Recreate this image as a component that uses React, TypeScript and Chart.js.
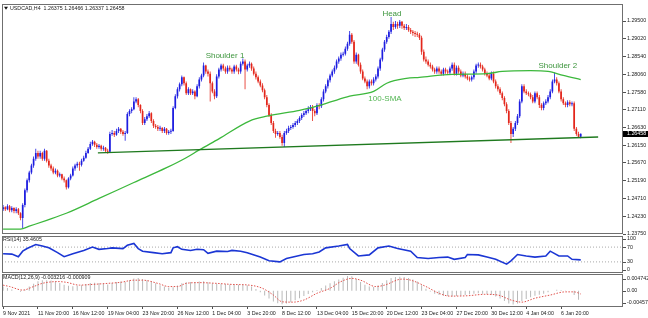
import React, { useEffect, useRef } from "react";
import { Chart, registerables } from "chart.js";

Chart.register(...registerables);

// ---------------- data ----------------
const HEADER = "USDCAD,H4  1.26375 1.26466 1.26337 1.26458";
const LAST_PRICE = 1.26458;
const FIRST_OPEN = 1.2442;

const CLOSE = [
  1.2447, 1.2442, 1.2450, 1.2439, 1.2445, 1.2437, 1.2442, 1.2431, 1.2418, 1.2453,
  1.2493, 1.2520, 1.2541, 1.2560, 1.2578, 1.2594, 1.2584, 1.2594, 1.2578, 1.2600,
  1.2573, 1.2560, 1.2552, 1.2541, 1.2546, 1.2533, 1.2536, 1.2525, 1.2520, 1.2501,
  1.2525, 1.2533, 1.2552, 1.2560, 1.2565, 1.2562, 1.2573, 1.2581, 1.2594, 1.2605,
  1.2618, 1.2624, 1.2616, 1.2610, 1.2613, 1.2605, 1.2608, 1.2600, 1.2597, 1.2645,
  1.2648, 1.2643, 1.2653, 1.2659, 1.2651, 1.2645, 1.2648, 1.2699, 1.2707, 1.2712,
  1.2733, 1.2739, 1.2723, 1.2707, 1.2675, 1.2685, 1.2693, 1.2701, 1.2680, 1.2667,
  1.2664, 1.2659, 1.2661, 1.2653, 1.2659, 1.2648, 1.2651, 1.2653, 1.2715, 1.2747,
  1.2766, 1.2779, 1.2798, 1.2782, 1.2755, 1.2766, 1.2755, 1.2760, 1.2747, 1.2774,
  1.2792, 1.2803, 1.2830, 1.2814, 1.2808, 1.2782, 1.2760, 1.2747, 1.2800, 1.2819,
  1.2830, 1.2822, 1.2814, 1.2824, 1.2819, 1.2814, 1.2827, 1.2819, 1.2814, 1.2835,
  1.2841, 1.2819, 1.2830, 1.2835, 1.2822, 1.2808, 1.2798, 1.2787, 1.2776, 1.2763,
  1.2744, 1.2723, 1.2696, 1.2675, 1.2653, 1.2645, 1.2648, 1.2637, 1.2621, 1.2648,
  1.2653, 1.2661, 1.2664, 1.2669, 1.2675, 1.2680, 1.2688, 1.2696, 1.2701, 1.2707,
  1.2712, 1.2717, 1.2707, 1.2701, 1.2723, 1.2720, 1.2739, 1.2760, 1.2774, 1.2790,
  1.2803, 1.2814, 1.2824, 1.2841, 1.2849, 1.2859, 1.2862, 1.2875, 1.2889, 1.2913,
  1.2894, 1.2841, 1.2859, 1.2832, 1.2814, 1.2795, 1.2787, 1.2774, 1.2787, 1.2782,
  1.2792, 1.2800, 1.2822, 1.2846, 1.2873, 1.2894, 1.2907, 1.2921, 1.2942, 1.2934,
  1.2942, 1.2937, 1.2948, 1.2937, 1.2931, 1.2934, 1.2926, 1.2921, 1.2918, 1.2915,
  1.2913, 1.2905, 1.2867, 1.2846, 1.2841, 1.2832, 1.2827, 1.2819, 1.2814, 1.2822,
  1.2814, 1.2808, 1.2819, 1.2814, 1.2811, 1.2822, 1.2832, 1.2808, 1.2824, 1.2814,
  1.2803, 1.2808, 1.2800, 1.2795, 1.2792, 1.2798, 1.2814, 1.2830, 1.2832, 1.2827,
  1.2819, 1.2808, 1.2803, 1.2795, 1.2808, 1.2787, 1.2774, 1.2766, 1.2755, 1.2742,
  1.2725, 1.2707, 1.2675, 1.2645, 1.2659, 1.2675, 1.2693, 1.2733, 1.2774, 1.2760,
  1.2755, 1.2752, 1.2744, 1.2733, 1.2755, 1.2744, 1.2723, 1.2715, 1.2728, 1.2733,
  1.2744, 1.2760, 1.2787, 1.2792, 1.2782, 1.2760, 1.2739, 1.2728, 1.2723, 1.2731,
  1.2725, 1.2728, 1.2659, 1.2645, 1.26375, 1.26458,
];

const HIGH = [
  1.2453, 1.2450, 1.2455, 1.2453, 1.2450, 1.2447, 1.2447, 1.2445, 1.2434, 1.2458,
  1.2498, 1.2525, 1.2546, 1.2565, 1.2584, 1.2605, 1.2600, 1.2600, 1.2597, 1.2605,
  1.2602, 1.2578, 1.2565, 1.2557, 1.2552, 1.2549, 1.2541, 1.2538, 1.2530, 1.2522,
  1.2528, 1.2538, 1.2557, 1.2565, 1.2570, 1.2570, 1.2578, 1.2586, 1.2600, 1.2610,
  1.2624, 1.2629, 1.2627, 1.2621, 1.2618, 1.2616, 1.2613, 1.2610, 1.2605, 1.2651,
  1.2656, 1.2653, 1.2659, 1.2664, 1.2661, 1.2656, 1.2653, 1.2704, 1.2712, 1.2717,
  1.2744, 1.2744, 1.2742, 1.2725, 1.2712, 1.2691, 1.2699, 1.2707, 1.2704, 1.2685,
  1.2672, 1.2669, 1.2667, 1.2664, 1.2664, 1.2661, 1.2656, 1.2659, 1.2720, 1.2752,
  1.2771, 1.2784, 1.2803, 1.2800, 1.2787, 1.2771, 1.2768, 1.2766, 1.2763, 1.2779,
  1.2798, 1.2808, 1.2838, 1.2832, 1.2819, 1.2814, 1.2787, 1.2766, 1.2806, 1.2824,
  1.2835, 1.2835, 1.2827, 1.2830, 1.2830, 1.2824, 1.2832, 1.2832, 1.2824, 1.2841,
  1.2849, 1.2846, 1.2835, 1.2841, 1.2838, 1.2827, 1.2814, 1.2803, 1.2792, 1.2782,
  1.2768, 1.2750, 1.2728, 1.2701, 1.2680, 1.2659, 1.2653, 1.2653, 1.2643, 1.2653,
  1.2659, 1.2667, 1.2669, 1.2675, 1.2680, 1.2685, 1.2693, 1.2701, 1.2707, 1.2712,
  1.2720, 1.2723, 1.2723, 1.2712, 1.2728, 1.2728, 1.2744, 1.2766, 1.2779, 1.2795,
  1.2808, 1.2819, 1.2830, 1.2846, 1.2854, 1.2865, 1.2867, 1.2881, 1.2894, 1.2923,
  1.2918, 1.2899, 1.2865, 1.2862, 1.2838, 1.2819, 1.2800, 1.2792, 1.2792, 1.2792,
  1.2798, 1.2806, 1.2827, 1.2851, 1.2878, 1.2899, 1.2913, 1.2926, 1.2961, 1.2948,
  1.2950, 1.2948, 1.2953, 1.2950, 1.2942, 1.2942, 1.2939, 1.2931, 1.2926, 1.2923,
  1.2921, 1.2918, 1.2910, 1.2873, 1.2854, 1.2846, 1.2838, 1.2832, 1.2824, 1.2827,
  1.2827, 1.2819, 1.2824, 1.2824, 1.2819, 1.2827, 1.2838, 1.2838, 1.2830, 1.2830,
  1.2819, 1.2814, 1.2814, 1.2806, 1.2800, 1.2803, 1.2819, 1.2835, 1.2838, 1.2838,
  1.2832, 1.2824, 1.2814, 1.2808, 1.2814, 1.2814, 1.2792, 1.2779, 1.2771, 1.2760,
  1.2747, 1.2731, 1.2712, 1.2680, 1.2664, 1.2680, 1.2699, 1.2739, 1.2779, 1.2779,
  1.2766, 1.2760, 1.2757, 1.2750, 1.2760, 1.2760, 1.2750, 1.2728, 1.2733, 1.2739,
  1.2750, 1.2766, 1.2792, 1.2811, 1.2798, 1.2787, 1.2766, 1.2744, 1.2733, 1.2736,
  1.2736, 1.2733, 1.2733, 1.2664, 1.2651, 1.26466,
];

const LOW = [
  1.2437, 1.2437, 1.2439, 1.2434, 1.2434, 1.2431, 1.2431, 1.2426, 1.2412, 1.2391,
  1.2447, 1.2487, 1.2514, 1.2536, 1.2554, 1.2573, 1.2578, 1.2578, 1.2573, 1.2573,
  1.2568, 1.2554, 1.2546, 1.2536, 1.2536, 1.2528, 1.2528, 1.2520, 1.2514, 1.2495,
  1.2498, 1.2520, 1.2530, 1.2546, 1.2554, 1.2546, 1.2557, 1.2570, 1.2578, 1.2592,
  1.2602, 1.2613, 1.2610, 1.2605, 1.2605, 1.2600, 1.2600, 1.2594, 1.2592, 1.2594,
  1.2640, 1.2637, 1.2640, 1.2648, 1.2645, 1.2640, 1.2627, 1.2645, 1.2693, 1.2701,
  1.2709, 1.2728, 1.2717, 1.2701, 1.2669, 1.2669, 1.2680, 1.2688, 1.2675, 1.2661,
  1.2659, 1.2653, 1.2653, 1.2648, 1.2648, 1.2643, 1.2643, 1.2645, 1.2651, 1.2712,
  1.2741, 1.2760, 1.2774, 1.2776, 1.2750, 1.2750, 1.2750, 1.2750, 1.2739, 1.2744,
  1.2768, 1.2787, 1.2798, 1.2808, 1.2800, 1.2733, 1.2755, 1.2739, 1.2742, 1.2795,
  1.2814, 1.2816, 1.2808, 1.2808, 1.2814, 1.2808, 1.2808, 1.2814, 1.2806, 1.2808,
  1.2830, 1.2766, 1.2814, 1.2824, 1.2816, 1.2803, 1.2792, 1.2782, 1.2771, 1.2758,
  1.2739, 1.2717, 1.2691, 1.2669, 1.2648, 1.2635, 1.2640, 1.2632, 1.2613, 1.2610,
  1.2643, 1.2648, 1.2656, 1.2659, 1.2664, 1.2669, 1.2675, 1.2683, 1.2691, 1.2696,
  1.2701, 1.2707, 1.2680, 1.2693, 1.2696, 1.2712, 1.2715, 1.2733, 1.2755, 1.2768,
  1.2784, 1.2798, 1.2808, 1.2819, 1.2835, 1.2843, 1.2854, 1.2857, 1.2870, 1.2883,
  1.2889, 1.2835, 1.2835, 1.2827, 1.2808, 1.2790, 1.2782, 1.2766, 1.2768, 1.2776,
  1.2776, 1.2787, 1.2795, 1.2816, 1.2841, 1.2867, 1.2889, 1.2902, 1.2915, 1.2926,
  1.2929, 1.2929, 1.2931, 1.2929, 1.2926, 1.2926, 1.2921, 1.2915, 1.2910, 1.2907,
  1.2907, 1.2899, 1.2859, 1.2841, 1.2835, 1.2827, 1.2822, 1.2814, 1.2808, 1.2808,
  1.2808, 1.2803, 1.2803, 1.2808, 1.2806, 1.2806, 1.2816, 1.2803, 1.2803, 1.2808,
  1.2798, 1.2798, 1.2795, 1.2790, 1.2787, 1.2787, 1.2792, 1.2808, 1.2824, 1.2822,
  1.2814, 1.2803, 1.2798, 1.2790, 1.2790, 1.2782, 1.2768, 1.2760, 1.2750, 1.2736,
  1.2720, 1.2701, 1.2669, 1.2621, 1.2637, 1.2653, 1.2669, 1.2688, 1.2728, 1.2755,
  1.2750, 1.2747, 1.2739, 1.2728, 1.2728, 1.2739, 1.2715, 1.2709, 1.2709, 1.2723,
  1.2728, 1.2739, 1.2755, 1.2782, 1.2776, 1.2755, 1.2733, 1.2723, 1.2717, 1.2717,
  1.2720, 1.2720, 1.2653, 1.2640, 1.2635, 1.26337,
];

const SMA_IDX = [0, 8, 12, 20, 29, 44, 60, 75, 84, 90, 99, 113, 121, 136, 144, 151, 159, 170, 176, 185, 191, 206, 222, 229, 242, 250, 257, 265];
const SMA_VAL = [1.2388, 1.2388, 1.2396, 1.2412, 1.2431, 1.2471, 1.2514, 1.2554, 1.2581, 1.2602, 1.2632, 1.2680, 1.2693, 1.2709, 1.2720, 1.2733, 1.2747, 1.2760, 1.2782, 1.2795, 1.2798, 1.2806, 1.2808, 1.2814, 1.2816, 1.2814, 1.2803, 1.2792];

const NECK_IDX = [43.5, 273];
const NECK_VAL = [1.2594, 1.2637];

const NOTE_TEXT = ["Shoulder 1", "Head", "Shoulder 2", "100-SMA"];
const NOTE_IDX = [101.8, 178.4, 254.5, 175.2];
const NOTE_PRICE = [1.2857, 1.2969, 1.2830, 1.2739];

const PRICE_MIN = 1.2375;
const PRICE_MAX = 1.29955;
const PRICE_TICKS = [1.2375, 1.2423, 1.2471, 1.2519, 1.2567, 1.2615, 1.2663, 1.2711, 1.2758, 1.2806, 1.2854, 1.2902, 1.295];

const RSI_LABEL = "RSI(14) 35.4605";
const RSI_IDX = [0, 4, 7, 9, 11, 15, 18, 21, 25, 28, 32, 37, 41, 44, 48, 50, 55, 57, 60, 62, 64, 69, 73, 77, 78, 80, 82, 86, 89, 92, 94, 98, 103, 105, 109, 112, 118, 122, 127, 130, 133, 138, 142, 145, 148, 154, 158, 159, 163, 168, 172, 177, 181, 187, 190, 195, 200, 204, 207, 212, 213, 218, 222, 226, 231, 233, 236, 240, 244, 249, 251, 255, 259, 261, 265];
const RSI_VAL = [52, 51, 44, 59, 66, 77, 73, 68, 55, 44, 52, 61, 70, 64, 66, 68, 66, 75, 80, 66, 59, 55, 52, 55, 68, 71, 64, 61, 64, 63, 53, 59, 58, 61, 59, 55, 43, 33, 30, 39, 43, 50, 52, 57, 68, 73, 77, 66, 46, 49, 68, 73, 66, 59, 42, 39, 42, 43, 37, 42, 50, 49, 43, 37, 24, 33, 50, 46, 43, 46, 59, 46, 46, 37, 35.5];
const RSI_LEVELS = [70, 30];
const RSI_TICKS = [100, 70, 30, 0];

const MACD_LABEL = "MACD(12,26,9) -0.003216 -0.000909";
const MACD_STEP = 2; // one histogram value for every second bar
const MACD_MAIN = [
  0.0012, 0.0008, 0.0004, 0.0000, -0.0003, 0.0003, 0.0012, 0.0020, 0.0027, 0.0030,
  0.0030, 0.0029, 0.0026, 0.0022, 0.0017, 0.0014, 0.0013, 0.0014, 0.0016, 0.0019,
  0.0022, 0.0023, 0.0022, 0.0020, 0.0018, 0.0022, 0.0025, 0.0026, 0.0025, 0.0030,
  0.0035, 0.0036, 0.0033, 0.0030, 0.0026, 0.0021, 0.0016, 0.0012, 0.0009, 0.0010,
  0.0015, 0.0021, 0.0024, 0.0025, 0.0025, 0.0026, 0.0027, 0.0024, 0.0021, 0.0020,
  0.0020, 0.0019, 0.0018, 0.0018, 0.0017, 0.0018, 0.0016, 0.0012, 0.0005, -0.0004,
  -0.0013, -0.0022, -0.0030, -0.0035, -0.0038, -0.0036, -0.0032, -0.0027, -0.0021, -0.0015,
  -0.0009, -0.0004, 0.0002, 0.0008, 0.0015, 0.0021, 0.0027, 0.0032, 0.0037, 0.0042,
  0.0041, 0.0033, 0.0025, 0.0017, 0.0012, 0.0011, 0.0015, 0.0022, 0.0030, 0.0036,
  0.0039, 0.0040, 0.0039, 0.0036, 0.0032, 0.0026, 0.0016, 0.0006, -0.0002, -0.0008,
  -0.0012, -0.0014, -0.0015, -0.0016, -0.0015, -0.0014, -0.0012, -0.0010, -0.0008, -0.0007,
  -0.0008, -0.0009, -0.0011, -0.0016, -0.0022, -0.0029, -0.0036, -0.0039, -0.0036, -0.0029,
  -0.0023, -0.0018, -0.0014, -0.0011, -0.0008, -0.0004, 0.0000, 0.0003, 0.0002, 0.0001,
  0.0000, -0.0012, -0.0025,
];
const SIGNAL_IDX = [0, 3, 9, 14, 18, 25, 29, 35, 41, 48, 54, 60, 64, 71, 76, 80, 84, 90, 98, 105, 113, 119, 124, 128, 133, 138, 144, 150, 155, 160, 164, 171, 175, 183, 187, 194, 200, 205, 213, 221, 227, 233, 238, 244, 251, 258, 262, 265];
const SIGNAL_VAL = [0.0016, 0.0012, 0.0002, 0.0012, 0.0021, 0.0026, 0.0024, 0.0016, 0.0018, 0.0021, 0.0024, 0.0030, 0.0030, 0.0021, 0.0012, 0.0012, 0.0021, 0.0023, 0.0021, 0.0018, 0.0016, 0.0007, -0.0012, -0.0031, -0.0032, -0.0026, -0.0007, 0.0007, 0.0026, 0.0035, 0.0030, 0.0012, 0.0016, 0.0033, 0.0030, 0.0012, -0.0007, -0.0015, -0.0014, -0.0010, -0.0012, -0.0026, -0.0032, -0.0021, -0.0012, -0.0003, -0.0003, -0.0009];
const MACD_MIN = -0.004573;
const MACD_MAX = 0.004742;
const MACD_TICKS = [0.004742, 0, -0.004573];
const MACD_TICK_TEXT = ["0.004742", "0.00", "-0.004573"];

const X_LABELS = ["9 Nov 2021", "11 Nov 20:00", "16 Nov 12:00", "19 Nov 04:00", "23 Nov 20:00", "26 Nov 12:00", "1 Dec 04:00", "3 Dec 20:00", "8 Dec 12:00", "13 Dec 04:00", "15 Dec 20:00", "20 Dec 12:00", "23 Dec 04:00", "27 Dec 20:00", "30 Dec 12:00", "4 Jan 04:00", "6 Jan 20:00"];
const X_LABEL_STEP = 16;
const X_MIN = -0.5;
const X_MAX = 284.4;

// ---------------- styles ----------------
const FONT = '"Liberation Sans", Arial, sans-serif';
const SMALL = 5.3;
const TXT = "#1a1a1a";
const FRAME = "#6f6f6f";
const UP = "#1d1de0";
const DOWN = "#e3261b";

Chart.defaults.font.family = FONT;
Chart.defaults.font.size = SMALL;
Chart.defaults.color = TXT;

function drawFrame(ctx: CanvasRenderingContext2D, a: any) {
  ctx.save();
  ctx.strokeStyle = FRAME;
  ctx.lineWidth = 1;
  const l = Math.round(a.left), t = Math.round(a.top), r = Math.round(a.right), b = Math.round(a.bottom);
  ctx.strokeRect(l + 0.5, t + 0.5, r - l - 1, b - t - 1);
  ctx.restore();
}

function drawCaption(ctx: CanvasRenderingContext2D, a: any, text: string, x: number) {
  ctx.save();
  ctx.font = `${SMALL}px ${FONT}`;
  ctx.fillStyle = TXT;
  ctx.textBaseline = "middle";
  ctx.textAlign = "left";
  ctx.fillText(text, x, a.top + 4);
  ctx.restore();
}

function drawSideLabels(ctx: CanvasRenderingContext2D, a: any, scale: any, values: number[], texts: string[], margin: number) {
  ctx.save();
  ctx.font = `${SMALL}px ${FONT}`;
  ctx.fillStyle = TXT;
  ctx.strokeStyle = "#505050";
  ctx.lineWidth = 1;
  ctx.textBaseline = "middle";
  ctx.textAlign = "left";
  values.forEach((v, k) => {
    const raw = scale.getPixelForValue(v);
    const y = Math.min(Math.max(raw, a.top + margin), a.bottom - margin);
    ctx.beginPath();
    ctx.moveTo(a.right, Math.round(y) + 0.5);
    ctx.lineTo(a.right + 3, Math.round(y) + 0.5);
    ctx.stroke();
    ctx.fillText(texts[k], a.right + 4, y);
  });
  ctx.restore();
}

const mainOverlay = {
  id: "mainOverlay",
  afterDraw(chart: any) {
    const { ctx, chartArea: a, scales } = chart;
    drawFrame(ctx, a);
    ctx.save();
    // small dropdown triangle + header
    ctx.fillStyle = "#111";
    ctx.beginPath();
    ctx.moveTo(a.left + 2, a.top + 2.5);
    ctx.lineTo(a.left + 6, a.top + 2.5);
    ctx.lineTo(a.left + 4, a.top + 5.5);
    ctx.closePath();
    ctx.fill();
    ctx.restore();
    drawCaption(ctx, a, HEADER, a.left + 8);
    // annotations
    ctx.save();
    ctx.font = `8px ${FONT}`;
    ctx.textAlign = "center";
    ctx.textBaseline = "middle";
    NOTE_TEXT.forEach((t, k) => {
      ctx.fillStyle = t === "100-SMA" ? "#52b552" : "#3e963e";
      ctx.fillText(t, scales.x.getPixelForValue(NOTE_IDX[k]), scales.y.getPixelForValue(NOTE_PRICE[k]));
    });
    // current price tag
    const y = scales.y.getPixelForValue(LAST_PRICE);
    ctx.fillStyle = "#000";
    ctx.fillRect(Math.round(a.right), Math.round(y) - 3, 25, 6);
    ctx.fillStyle = "#fff";
    ctx.font = `${SMALL}px ${FONT}`;
    ctx.textAlign = "left";
    ctx.fillText(LAST_PRICE.toFixed(5), a.right + 4, y);
    ctx.restore();
  },
};

const rsiOverlay = {
  id: "rsiOverlay",
  afterDraw(chart: any) {
    const { ctx, chartArea: a, scales } = chart;
    drawFrame(ctx, a);
    drawCaption(ctx, a, RSI_LABEL, a.left + 1);
    drawSideLabels(ctx, a, scales.y, RSI_TICKS, RSI_TICKS.map(String), 3);
  },
};

const macdOverlay = {
  id: "macdOverlay",
  afterDraw(chart: any) {
    const { ctx, chartArea: a, scales } = chart;
    drawFrame(ctx, a);
    drawCaption(ctx, a, MACD_LABEL, a.left + 1);
    drawSideLabels(ctx, a, scales.y, MACD_TICKS, MACD_TICK_TEXT, 4.5);
  },
};

const common: any = {
  responsive: false,
  maintainAspectRatio: false,
  animation: false,
  devicePixelRatio: 1,
  events: [],
  plugins: { legend: { display: false }, tooltip: { enabled: false } },
};

const hiddenX = { type: "linear", min: X_MIN, max: X_MAX, display: false, offset: false, grid: { offset: false } };

function mainConfig(): any {
  const idx = CLOSE.map((_, i) => i);
  const open = CLOSE.map((_, i) => (i === 0 ? FIRST_OPEN : CLOSE[i - 1]));
  const colors = idx.map((i) => (CLOSE[i] >= open[i] ? UP : DOWN));
  return {
    type: "bar",
    data: {
      datasets: [
        {
          type: "line",
          data: NECK_IDX.map((x, k) => ({ x, y: NECK_VAL[k] })),
          borderColor: "#1f7a1f",
          borderWidth: 1.4,
          pointRadius: 0,
          order: 0,
        },
        {
          type: "line",
          data: SMA_IDX.map((x, k) => ({ x, y: SMA_VAL[k] })),
          borderColor: "#3cb83c",
          borderWidth: 1.3,
          pointRadius: 0,
          cubicInterpolationMode: "monotone",
          order: 1,
        },
        {
          type: "bar",
          data: idx.map((i) => ({ x: i, y: [open[i], CLOSE[i]] })),
          backgroundColor: colors,
          barThickness: 1.7,
          minBarLength: 1,
          grouped: false,
          inflateAmount: 0,
          borderWidth: 0,
          order: 2,
        },
        {
          type: "bar",
          data: idx.map((i) => ({ x: i, y: [LOW[i], HIGH[i]] })),
          backgroundColor: colors,
          barThickness: 0.8,
          grouped: false,
          inflateAmount: 0,
          borderWidth: 0,
          order: 3,
        },
      ],
    },
    options: {
      ...common,
      layout: { padding: { left: 2, top: 2, right: 0, bottom: 6 } },
      scales: {
        x: hiddenX,
        y: {
          type: "linear",
          position: "right",
          min: PRICE_MIN,
          max: PRICE_MAX,
          afterBuildTicks: (s: any) => {
            s.ticks = PRICE_TICKS.map((v) => ({ value: v }));
          },
          afterFit: (s: any) => {
            s.width = 25;
          },
          ticks: {
            autoSkip: false,
            padding: 1,
            color: TXT,
            font: { size: SMALL, family: FONT },
            callback: (v: any) => Number(v).toFixed(5),
          },
          grid: { drawOnChartArea: false, drawTicks: true, tickLength: 3, color: "#505050" },
          border: { display: false },
        },
      },
    },
    plugins: [mainOverlay],
  };
}

function rsiConfig(): any {
  return {
    type: "line",
    data: {
      datasets: [
        {
          data: RSI_IDX.map((x, k) => ({ x, y: RSI_VAL[k] })),
          borderColor: "#1b36d4",
          borderWidth: 1.6,
          pointRadius: 0,
          tension: 0,
        },
        ...RSI_LEVELS.map((lv) => ({
          data: [
            { x: X_MIN, y: lv },
            { x: X_MAX, y: lv },
          ],
          borderColor: "#a9a9a9",
          borderWidth: 1,
          borderDash: [1, 2],
          pointRadius: 0,
        })),
      ],
    },
    options: {
      ...common,
      layout: { padding: { left: 2, top: 8, right: 25, bottom: 7 } },
      scales: {
        x: hiddenX,
        y: { type: "linear", min: 0, max: 100, display: false },
      },
    },
    plugins: [rsiOverlay],
  };
}

function macdConfig(): any {
  return {
    type: "bar",
    data: {
      datasets: [
        {
          type: "line",
          data: SIGNAL_IDX.map((x, k) => ({ x, y: SIGNAL_VAL[k] })),
          borderColor: "#e0524c",
          borderWidth: 1,
          borderDash: [1.5, 1.5],
          pointRadius: 0,
          cubicInterpolationMode: "monotone",
          order: 0,
        },
        {
          type: "bar",
          data: MACD_MAIN.map((v, k) => ({ x: k * MACD_STEP, y: v })),
          backgroundColor: "#b9b9b9",
          barThickness: 1,
          grouped: false,
          inflateAmount: 0,
          borderWidth: 0,
          order: 1,
        },
      ],
    },
    options: {
      ...common,
      layout: { padding: { left: 2, top: 6, right: 25, bottom: 0 } },
      scales: {
        x: {
          type: "linear",
          min: X_MIN,
          max: X_MAX,
          offset: false,
          position: "bottom",
          afterBuildTicks: (s: any) => {
            s.ticks = X_LABELS.map((_, k) => ({ value: k * X_LABEL_STEP }));
          },
          afterFit: (s: any) => {
            s.height = 11;
          },
          ticks: {
            autoSkip: false,
            maxRotation: 0,
            minRotation: 0,
            align: "start",
            padding: 1,
            color: TXT,
            font: { size: SMALL, family: FONT },
            callback: (_v: any, i: number) => X_LABELS[i] ?? "",
          },
          grid: { offset: false, drawOnChartArea: false, drawTicks: true, tickLength: 2, color: "#505050" },
          border: { display: false },
        },
        y: { type: "linear", min: MACD_MIN, max: MACD_MAX, display: false },
      },
    },
    plugins: [macdOverlay],
  };
}

export default function App() {
  const mainRef = useRef<HTMLCanvasElement>(null);
  const rsiRef = useRef<HTMLCanvasElement>(null);
  const macdRef = useRef<HTMLCanvasElement>(null);

  useEffect(() => {
    document.body.style.margin = "0";
    const charts = [
      new Chart(mainRef.current as HTMLCanvasElement, mainConfig()),
      new Chart(rsiRef.current as HTMLCanvasElement, rsiConfig()),
      new Chart(macdRef.current as HTMLCanvasElement, macdConfig()),
    ];
    return () => charts.forEach((c) => c.destroy());
  }, []);

  const abs = (top: number, height: number): React.CSSProperties => ({
    position: "absolute",
    left: 0,
    top,
    width: 648,
    height,
  });

  return (
    <div style={{ position: "fixed", left: 0, top: 0, width: 648, height: 318, background: "#fff", overflow: "hidden" }}>
      <canvas ref={mainRef} width={648} height={240} style={abs(0, 240)} />
      <canvas ref={rsiRef} width={648} height={52} style={abs(228, 52)} />
      <canvas ref={macdRef} width={648} height={50} style={abs(268, 50)} />
    </div>
  );
}
